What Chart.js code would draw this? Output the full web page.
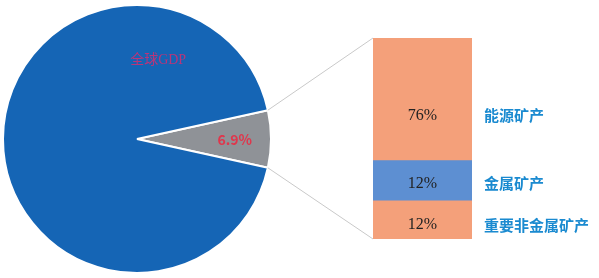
<!DOCTYPE html>
<html>
<head>
<meta charset="utf-8">
<script src="https://cdn.jsdelivr.net/npm/chart.js@4/dist/chart.umd.min.js"></script>
<style>
  html, body { margin: 0; padding: 0; background: #fff; }
  #wrap { position: relative; width: 599px; height: 278px; overflow: hidden; }
  #pie { position: absolute; left: 2px; top: 4px; }
  #bar { position: absolute; left: 0; top: 0; pointer-events: none; }
</style>
</head>
<body>
<div id="wrap">
  <canvas id="pie" width="270" height="270"></canvas>
  <canvas id="bar" width="599" height="278"></canvas>
</div>
<script>
// pie: share of minerals in global GDP
const pieNames = ["矿产", "全球GDP"];
const pieShares = [6.9, 93.1];
const pieColors = ["#8f9297", "#1565b5"];

// bar: split of the mineral slice (bottom to top)
const mineralTypes = ["重要非金属矿产", "金属矿产", "能源矿产"];
const barHeights = [19, 20, 61];
const shareLabels = ["12%", "12%", "76%"];
const barColors = ["#f4a07a", "#5d8fd2", "#f4a07a"];

const serif = '"Liberation Serif", "Noto Sans CJK SC", serif';
const cjk = '"Noto Sans CJK SC", sans-serif';

// text on the pie slices
const pieText = {
    id: "pieText",
    afterDatasetsDraw(chart) {
        const ctx = chart.ctx;
        const arcs = chart.getDatasetMeta(0).data;
        ctx.save();
        ctx.textAlign = "center";
        ctx.textBaseline = "middle";
        // small slice: percentage
        let a = arcs[0];
        let mid = (a.startAngle + a.endAngle) / 2;
        ctx.fillStyle = "#e0364c";
        ctx.font = "bold 14px " + cjk;
        ctx.fillText(pieShares[0] + "%", a.x + Math.cos(mid) * a.outerRadius * 0.73, a.y + Math.sin(mid) * a.outerRadius * 0.73 + 1);
        // big slice: name, upper part
        a = arcs[1];
        const ang = -75 * Math.PI / 180;
        ctx.fillStyle = "#b8357a";
        ctx.font = "14px " + serif;
        ctx.fillText(pieNames[1], a.x + Math.cos(ang) * a.outerRadius * 0.61, a.y + Math.sin(ang) * a.outerRadius * 0.61);
        ctx.restore();
    }
};

const pieChart = new Chart(document.getElementById("pie"), {
    type: "pie",
    data: {
        labels: pieNames,
        datasets: [{
            data: pieShares,
            backgroundColor: pieColors,
            borderColor: "#ffffff",
            borderWidth: 2,
        }],
    },
    options: {
        responsive: false,
        animation: false,
        rotation: 90 - pieShares[0] * 1.8,
        plugins: { legend: { display: false }, tooltip: { enabled: false } },
    },
    plugins: [pieText],
});

// connector lines + labels for the bar
const barExtras = {
    id: "barExtras",
    beforeDatasetsDraw(chart) {
        const ctx = chart.ctx;
        const arc = pieChart.getDatasetMeta(0).data[0];
        const pc = pieChart.canvas;
        const ox = pc.offsetLeft, oy = pc.offsetTop;
        const topBar = chart.getDatasetMeta(barHeights.length - 1).data[0];
        const botBar = chart.getDatasetMeta(0).data[0];
        const left = topBar.x - topBar.width / 2;
        const r = arc.outerRadius;
        ctx.save();
        ctx.strokeStyle = "#c9c9c9";
        ctx.lineWidth = 1;
        ctx.beginPath();
        ctx.moveTo(ox + arc.x + Math.cos(arc.startAngle) * r, oy + arc.y + Math.sin(arc.startAngle) * r);
        ctx.lineTo(left, topBar.y);
        ctx.moveTo(ox + arc.x + Math.cos(arc.endAngle) * r, oy + arc.y + Math.sin(arc.endAngle) * r);
        ctx.lineTo(left, botBar.base);
        ctx.stroke();
        ctx.restore();
    },
    afterDatasetsDraw(chart) {
        const ctx = chart.ctx;
        const shift = [5, 3, 16];
        ctx.save();
        ctx.textBaseline = "middle";
        mineralTypes.forEach((name, i) => {
            const el = chart.getDatasetMeta(i).data[0];
            const cy = (el.y + el.base) / 2 + shift[i];
            ctx.textAlign = "center";
            ctx.fillStyle = "#222222";
            ctx.font = "16px " + serif;
            ctx.fillText(shareLabels[i], el.x, cy);
            ctx.textAlign = "left";
            ctx.fillStyle = "#1a8ad0";
            ctx.font = "bold 15px " + cjk;
            ctx.fillText(name, chart.chartArea.right + 12, cy);
        });
        ctx.restore();
    }
};

new Chart(document.getElementById("bar"), {
    type: "bar",
    data: {
        labels: ["矿产"],
        datasets: mineralTypes.map((name, i) => ({
            label: name,
            data: [barHeights[i]],
            backgroundColor: barColors[i],
            borderWidth: 0,
            barPercentage: 1,
            categoryPercentage: 1,
        })),
    },
    options: {
        responsive: false,
        animation: false,
        layout: { padding: { left: 373, right: 127, top: 38, bottom: 39 } },
        scales: {
            x: { display: false, stacked: true },
            y: { display: false, stacked: true, min: 0, max: 100 },
        },
        plugins: { legend: { display: false }, tooltip: { enabled: false } },
    },
    plugins: [barExtras],
});
</script>
</body>
</html>
